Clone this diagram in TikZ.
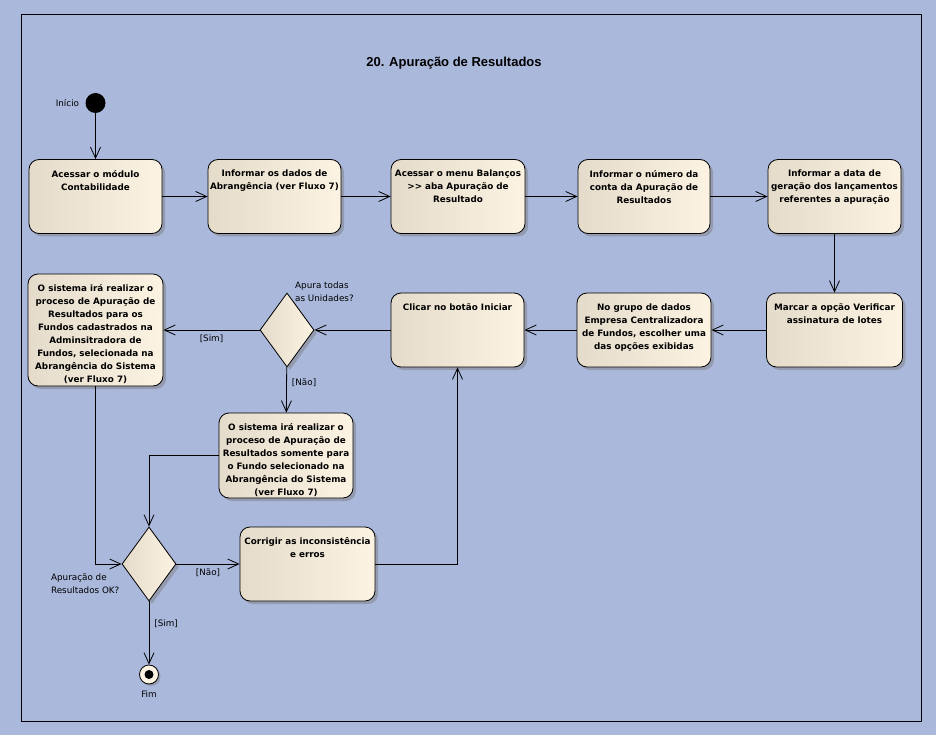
\documentclass[tikz,border=0pt]{standalone}
\usepackage{fontspec}
\setmainfont{DejaVu Sans}
\newfontfamily\titlefont{Liberation Sans}
\usetikzlibrary{shapes.geometric, arrows.meta, positioning, shadows}
\definecolor{panelblue}{RGB}{170,184,220}
\definecolor{actleft}{RGB}{229,219,202}
\definecolor{actright}{RGB}{252,243,227}
\definecolor{shadowgray}{RGB}{146,150,166}

\begin{document}
\begin{tikzpicture}[
    x=1pt, y=-1pt,
    act/.style={
        rectangle,
        draw=black,
        line width=0.8pt,
        left color=actleft,
        right color=actright,
        rounded corners=10pt,
        minimum width=133pt,
        minimum height=74pt,
        inner sep=0pt,
        drop shadow={shadow xshift=3pt, shadow yshift=-3pt, fill=shadowgray, opacity=0.85}
    },
    acttext/.style={
        anchor=north,
        yshift=-11pt,
        align=center,
        inner sep=0pt,
        font=\fontsize{8.8}{13}\selectfont\bfseries
    },
    choice/.style={
        diamond,
        draw=black,
        line width=0.8pt,
        left color=actleft,
        right color=actright,
        minimum width=54pt,
        minimum height=74pt,
        inner sep=0pt,
        drop shadow={shadow xshift=3pt, shadow yshift=-3pt, fill=shadowgray, opacity=0.85}
    },
    note/.style={
        inner sep=0pt,
        align=left,
        font=\fontsize{8.8}{13}\selectfont
    },
    arrow/.style={
        -{Straight Barb[length=11pt, width=10pt]},
        line width=0.8pt
    }
]
    \fill[panelblue] (0,0) rectangle (936,735);
    \useasboundingbox (0,0) rectangle (936,735);
    \draw[line width=0.8pt] (21,14) rectangle (921,721);

    \node[font=\titlefont\fontsize{13}{15}\selectfont\bfseries] (title) at (454,63) {20. Apuração de Resultados};

    % start and first row
    \node[circle, fill=black, minimum size=20pt, inner sep=0pt] (inicio) at (95.5,103) {};
    \node[note, left=6pt of inicio] (inicioLbl) {Início};

    \node[act, label={[acttext]north:{Acessar o módulo\\Contabilidade}}] (acessar) at (95.5,196.5) {};
    \node[act, label={[acttext]north:{Informar os dados de\\Abrangência (ver Fluxo 7)}}] (informarAbr) at (274.5,196.5) {};
    \node[act, minimum width=134pt, label={[acttext]north:{Acessar o menu Balanços\\>\kern0pt> aba Apuração de\\Resultado}}] (menuBal) at (458,196.5) {};
    \node[act, minimum width=132pt, label={[acttext]north:{Informar o número da\\conta da Apuração de\\Resultados}}] (numConta) at (644,196.5) {};
    \node[act, label={[acttext]north:{Informar a data de\\geração dos lançamentos\\referentes a apuração}}] (dataGer) at (834.5,196.5) {};

    % second row
    \node[act, minimum width=136pt, label={[acttext]north:{Marcar a opção Verificar\\assinatura de lotes}}] (marcar) at (834.5,330) {};
    \node[act, minimum width=134pt, label={[acttext]north:{No grupo de dados\\Empresa Centralizadora\\de Fundos, escolher uma\\das opções exibidas}}] (grupo) at (644,330) {};
    \node[act, label={[acttext]north:{Clicar no botão Iniciar}}] (iniciar) at (457.5,330) {};
    \node[choice] (apuraTodas) at (287,330) {};
    \node[note, anchor=south west] (apuraLbl) at ([xshift=8pt, yshift=-9pt]apuraTodas.north) {Apura todas\\as Unidades?};
    \node[act, minimum width=135pt, minimum height=112pt, label={[acttext]north:{O sistema irá realizar o\\proceso de Apuração de\\Resultados para os\\Fundos cadastrados na\\Adminsitradora de\\Fundos, selecionada na\\Abrangência do Sistema\\(ver Fluxo 7)}}] (sistemaTodos) at (95.5,330) {};

    % lower part
    \node[act, minimum width=134pt, minimum height=85pt, label={[acttext]north:{O sistema irá realizar o\\proceso de Apuração de\\Resultados somente para\\o Fundo selecionado na\\Abrangência do Sistema\\(ver Fluxo 7)}}] (sistemaFundo) at (286,455.5) {};
    \node[choice] (resultOk) at (149,564) {};
    \node[note, anchor=north east] (resultLbl) at ([xshift=-2pt, yshift=-9pt]resultOk.west) {Apuração de\\Resultados OK?};
    \node[act, minimum width=135pt, label={[acttext]north:{Corrigir as inconsistência\\e erros}}] (corrigir) at (307.5,564) {};

    \node[circle, draw=black, line width=0.8pt, fill=actright, minimum size=19pt, inner sep=0pt,
          drop shadow={shadow xshift=2pt, shadow yshift=-2pt, fill=shadowgray, opacity=0.85}] (fim) at (149,674.5) {};
    \node[circle, fill=black, minimum size=9pt, inner sep=0pt] (fimDot) at (fim) {};
    \node[note, below=6pt of fim] (fimLbl) {Fim};

    \draw[arrow] (inicio) -- (acessar);
    \draw[arrow] (acessar) -- (informarAbr);
    \draw[arrow] (informarAbr) -- (menuBal);
    \draw[arrow] (menuBal) -- (numConta);
    \draw[arrow] (numConta) -- (dataGer);
    \draw[arrow] (dataGer) -- (marcar);
    \draw[arrow] (marcar) -- (grupo);
    \draw[arrow] (grupo) -- (iniciar);
    \draw[arrow] (iniciar) -- (apuraTodas);
    \draw[arrow] (apuraTodas) -- node[note, below=4pt] (simTodas) {[Sim]} (sistemaTodos);
    \draw[arrow] (apuraTodas) -- node[note, pos=0.35, right=5pt] (naoTodas) {[Não]} (sistemaFundo);
    \draw[arrow] (sistemaTodos.south) |- (resultOk.west);
    \draw[arrow] (sistemaFundo.west) -| (resultOk.north);
    \draw[arrow] (resultOk) -- node[note, below=4pt] (naoOk) {[Não]} (corrigir);
    \draw[arrow] (corrigir.east) -| (iniciar.south);
    \draw[arrow] (resultOk) -- node[note, pos=0.35, right=5pt] (simOk) {[Sim]} (fim);
\end{tikzpicture}
\end{document}
